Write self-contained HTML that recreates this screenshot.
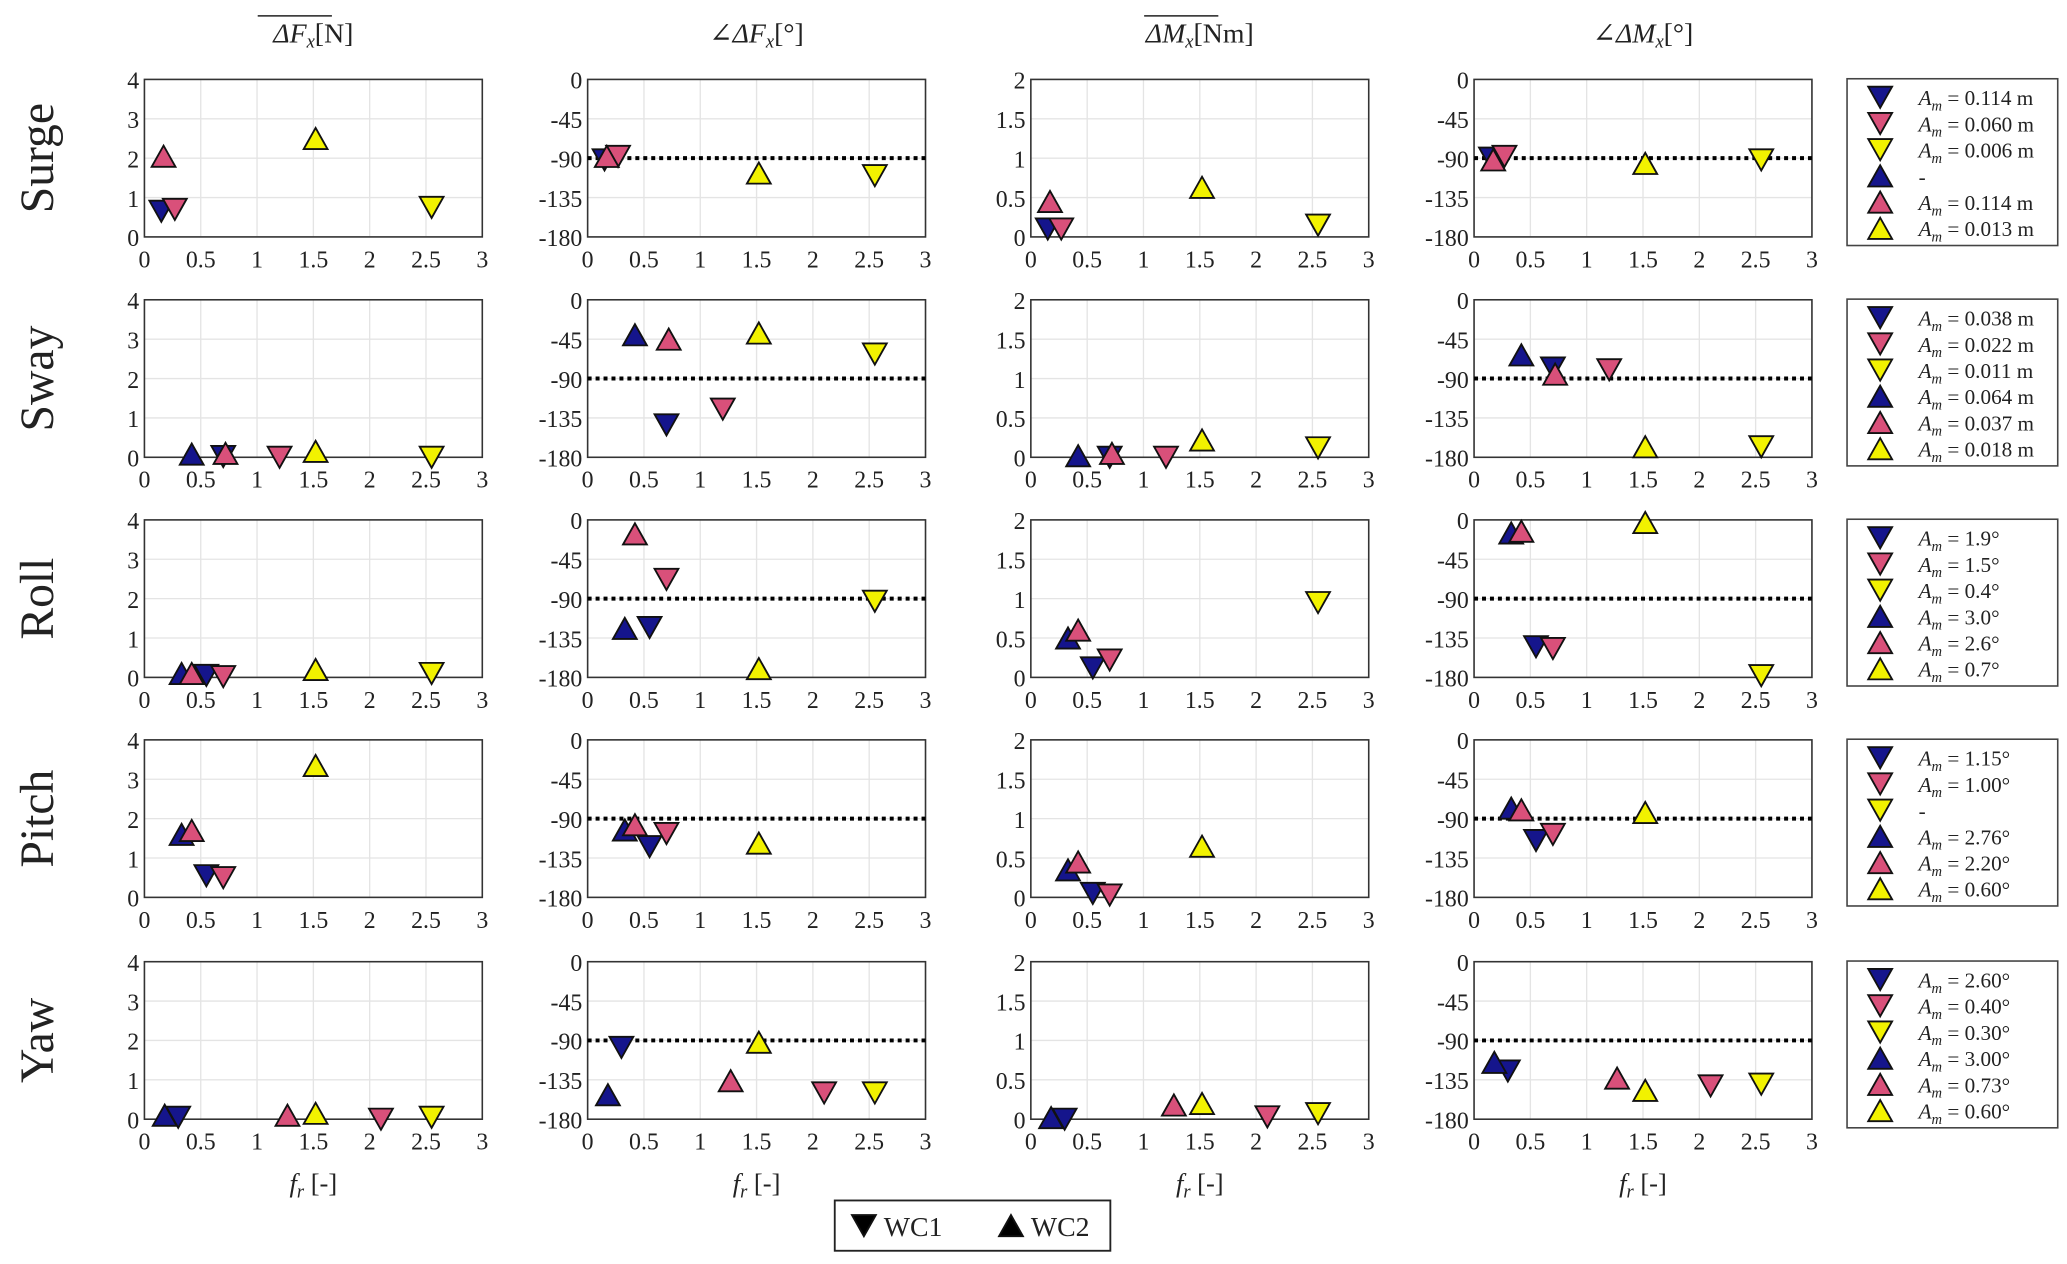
<!DOCTYPE html>
<html><head><meta charset="utf-8"><style>
html,body{margin:0;padding:0;background:#fff}
svg{display:block}
text{font-family:"Liberation Serif","DejaVu Serif",serif;fill:#222}
</style></head><body>
<svg id="chart" width="2067" height="1264" viewBox="0 0 1560 955" preserveAspectRatio="none" xmlns="http://www.w3.org/2000/svg"></svg>
<script>
const rowNames=["Surge","Sway","Roll","Pitch","Yaw"];
const colTitles=["ΔFx[N]","∠ΔFx[°]","ΔMx[Nm]","∠ΔMx[°]"];
const xTicks=[0,0.5,1,1.5,2,2.5,3];
const yTicksCols=[[0,1,2,3,4],[-180,-135,-90,-45,0],[0,0.5,1,1.5,2],[-180,-135,-90,-45,0]];
const seriesColors=["#15158c","#d9507a","#f2f200","#15158c","#d9507a","#f2f200"];
// x positions per row: [WC1 blue, WC1 pink, WC1 yellow, WC2 blue, WC2 pink, WC2 yellow]
const xSurge=[0.15,0.27,2.55,null,0.17,1.52];
const xSway=[0.7,1.2,2.55,0.42,0.72,1.52];
const xRoll=[0.55,0.7,2.55,0.33,0.42,1.52];
const xPitch=[0.55,0.7,null,0.33,0.42,1.52];
const xYaw=[0.3,2.1,2.55,0.18,1.27,1.52];
const ySurge=[[0.65,0.7,0.75,null,2.05,2.5],[-92,-88,-110,null,-88,-107],[0.1,0.1,0.15,null,0.45,0.63],[-90,-88,-92,null,-92,-96]];
const ySway=[[0.02,0,0,0.08,0.1,0.15],[-143,-125,-62,-40,-45,-38],[0,0,0.12,0.02,0.05,0.22],[-78,-80,-168,-63,-85,-168]];
const yRoll=[[0.05,0.02,0.1,0.1,0.1,0.2],[-123,-68,-93,-124,-16,-170],[0.12,0.22,0.95,0.5,0.6,null],[-145,-147,-178,-15,-13,-3]];
const yPitch=[[0.55,0.5,null,1.6,1.7,3.35],[-122,-107,null,-103,-97,-118],[0.05,0.03,null,0.35,0.45,0.65],[-115,-108,null,-78,-80,-83]];
const yYaw=[[0.05,0,0.05,0.1,0.1,0.15],[-98,-150,-150,-152,-136,-92],[0,0.03,0.07,0.02,0.18,0.2],[-125,-142,-140,-115,-133,-147]];
const legSurge=["A_m = 0.114 m","A_m = 0.060 m","A_m = 0.006 m","-","A_m = 0.114 m","A_m = 0.013 m"];
const legSway=["A_m = 0.038 m","A_m = 0.022 m","A_m = 0.011 m","A_m = 0.064 m","A_m = 0.037 m","A_m = 0.018 m"];
const legRoll=["A_m = 1.9°","A_m = 1.5°","A_m = 0.4°","A_m = 3.0°","A_m = 2.6°","A_m = 0.7°"];
const legPitch=["A_m = 1.15°","A_m = 1.00°","-","A_m = 2.76°","A_m = 2.20°","A_m = 0.60°"];
const legYaw=["A_m = 2.60°","A_m = 0.40°","A_m = 0.30°","A_m = 3.00°","A_m = 0.73°","A_m = 0.60°"];

const xs=[xSurge,xSway,xRoll,xPitch,xYaw];
const ys=[ySurge,ySway,yRoll,yPitch,yYaw];
const legs=[legSurge,legSway,legRoll,legPitch,legYaw];

const svg=document.getElementById('chart');
const NS="http://www.w3.org/2000/svg";
function mk(tag,attrs,parent){const e=document.createElementNS(NS,tag);for(const k in attrs)e.setAttribute(k,attrs[k]);(parent||svg).appendChild(e);return e;}
const colX=[109,443.5,778,1112.5], W=255;
const rowY=[60,226.5,392.8,559,726.6], H=119;
function tri(cx,cy,down,color,parent){
  const w=9,h=8;
  const pts=down?`${cx-w},${cy-h} ${cx+w},${cy-h} ${cx},${cy+h}`:`${cx-w},${cy+h} ${cx+w},${cy+h} ${cx},${cy-h}`;
  return mk('polygon',{points:pts,fill:color,stroke:'#111','stroke-width':1.4},parent);
}
function addText(x,y,str,size,parent,anchor,italic){
  const t=mk('text',{x:x,y:y,'font-size':size,'text-anchor':anchor||'middle'},parent);
  if(italic)t.setAttribute('font-style','italic');
  t.textContent=str;return t;
}
// column titles
const titleHTML=[["ΔF","x","[N]",true],["∠ΔF","x","[°]",false],["ΔM","x","[Nm]",true],["∠ΔM","x","[°]",false]];
titleHTML.forEach((tt,c)=>{
  const g=mk('g',{});
  
  
  const cx=colX[c]+W/2;
  const t=mk('text',{x:cx,y:32,'font-size':21,'text-anchor':'middle'},g);
  const a=mk('tspan',{'font-style':'italic'},t);a.textContent=tt[0];
  const b=mk('tspan',{'font-style':'italic','font-size':14,dy:4},t);b.textContent=tt[1];
  const d=mk('tspan',{dy:-4},t);d.textContent=tt[2];
  if(tt[3])mk('line',{x1:cx-42,x2:cx+14,y1:12,y2:12,stroke:'#222','stroke-width':1.2},g);
});
for(let r=0;r<5;r++){
  const rl=mk('text',{x:0,y:0,'font-size':36,'text-anchor':'middle',transform:`translate(40,${rowY[r]+H/2}) rotate(-90)`});
  rl.textContent=rowNames[r];
  
  
  for(let c=0;c<4;c++){
    const g=mk('g',{});
    
    
    const L=colX[c],T=rowY[r];
    const yt=yTicksCols[c];const ymin=yt[0],ymax=yt[yt.length-1];
    const sx=v=>L+(v-0)/3*W;
    const sy=v=>T+H-(v-ymin)/(ymax-ymin)*H;
    mk('rect',{x:L,y:T,width:W,height:H,fill:'#fff'},g);
    xTicks.forEach(v=>{
      mk('line',{x1:sx(v),x2:sx(v),y1:T,y2:T+H,stroke:'#e4e4e4','stroke-width':1},g);
      const tl=addText(sx(v),T+H+23,String(v),18,g);
      
      
    });
    yt.forEach(v=>{
      mk('line',{x1:L,x2:L+W,y1:sy(v),y2:sy(v),stroke:'#e4e4e4','stroke-width':1},g);
      const tl=addText(L-4,sy(v)+7,String(v),18,g,'end');
      
      
    });
    mk('rect',{x:L,y:T,width:W,height:H,fill:'none',stroke:'#333','stroke-width':1.2},g);
    if(c===1||c===3){
      const dl=mk('line',{x1:L,x2:L+W,y1:sy(-90),y2:sy(-90),stroke:'#000','stroke-width':3,'stroke-dasharray':'3,3'},g);
      
      
    }
    for(let s=0;s<6;s++){
      const xv=xs[r][s],yv=ys[r][c][s];
      if(xv==null||yv==null)continue;
      const m=tri(sx(xv),sy(yv),s<3,seriesColors[s],g);
      
      
    }
    if(r===4){
      const t=mk('text',{x:L+W/2,y:T+H+55,'font-size':20,'text-anchor':'middle'},g);
      const a=mk('tspan',{'font-style':'italic'},t);a.textContent='f';
      const b=mk('tspan',{'font-style':'italic','font-size':14,dy:4},t);b.textContent='r';
      const d=mk('tspan',{dy:-4},t);d.textContent='  [-]';
      
      
    }
  }
  // legend
  const lg=mk('g',{});
  
  
  const LT=rowY[r]-0.5;
  mk('rect',{x:1394,y:LT,width:159,height:126,fill:'#fff',stroke:'#444','stroke-width':1.2},lg);
  for(let s=0;s<6;s++){
    const yy=LT+14+s*19.8;
    tri(1419,yy,s<3,seriesColors[s],lg);
    const lab=legs[r][s];
    const t=mk('text',{x:1448,y:yy+6,'font-size':16},lg);
    if(lab==='-'){t.textContent='-';}
    else{
      const a=mk('tspan',{'font-style':'italic'},t);a.textContent='A';
      const b=mk('tspan',{'font-style':'italic','font-size':11,dy:4},t);b.textContent='m';
      const d=mk('tspan',{dy:-4},t);d.textContent=lab.slice(3);
    }
    
    
  }
}
// bottom legend
const bl=mk('g',{});


mk('rect',{x:630,y:907,width:208,height:38,fill:'#fff',stroke:'#222','stroke-width':1.4},bl);
tri(652,926,true,'#000',bl);
addText(667,934,'WC1',21,bl,'start');
tri(763,926,false,'#000',bl);
addText(778,934,'WC2',21,bl,'start');
</script>
</body></html>
